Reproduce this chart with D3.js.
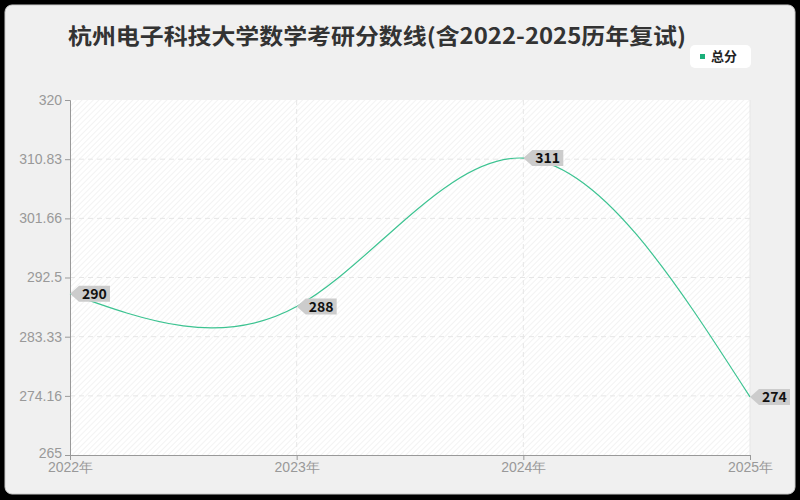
<!DOCTYPE html>
<html>
<meta charset="utf-8">
<title>杭州电子科技大学数学考研分数线</title>
<style>
	body { margin: 0; background-color: #000000; }
	svg { display: block; font-family: "Noto Sans CJK SC", "Noto Sans", sans-serif; }
	.tick text { fill: #999999; font-size: 14px; }
</style>
<body>
<div id="chart"></div>
<script src="https://cdn.jsdelivr.net/npm/d3@7/dist/d3.min.js"></script>
<script>

	// Data
	var years = ["2022年", "2023年", "2024年", "2025年"];
	var scores = [290, 288, 311, 274];
	var yTicks = [265, 274.16, 283.33, 292.5, 301.66, 310.83, 320];
	var seriesName = "总分";
	var title = "杭州电子科技大学数学考研分数线(含2022-2025历年复试)";

	var W = 800, H = 500;
	var margin = { top: 100, right: 50, bottom: 45, left: 70 },
		width = W - margin.left - margin.right,
		height = H - margin.top - margin.bottom;

	var svg = d3.select("#chart").append("svg")
		.attr("width", W)
		.attr("height", H);

	// hatch pattern for plot background
	var defs = svg.append("defs");
	var pat = defs.append("pattern")
		.attr("id", "hatch")
		.attr("patternUnits", "userSpaceOnUse")
		.attr("width", 4).attr("height", 4)
		.attr("patternTransform", "rotate(45)");
	pat.append("rect").attr("width", 4).attr("height", 4).attr("fill", "#ffffff");
	pat.append("line").attr("x1", 0).attr("y1", 0).attr("x2", 0).attr("y2", 4)
		.attr("stroke", "#f3f3f3").attr("stroke-width", 2);

	// outer panel
	svg.append("rect")
		.attr("x", 5).attr("y", 5)
		.attr("width", 790).attr("height", 489)
		.attr("rx", 7)
		.attr("fill", "#f0f0f0")
		.attr("stroke", "#cccccc");

	svg.append("text")
		.attr("x", 68).attr("y", 44)
		.attr("font-size", 22).attr("font-weight", "bold")
		.attr("fill", "#333333")
		.attr("textLength", 618)
		.attr("lengthAdjust", "spacingAndGlyphs")
		.text(title);

	// legend
	var legend = svg.append("g").attr("transform", "translate(690,45)");
	legend.append("rect").attr("width", 61).attr("height", 23).attr("rx", 5).attr("fill", "#ffffff");
	legend.append("rect").attr("x", 10).attr("y", 9).attr("width", 5).attr("height", 5).attr("fill", "#1aaf7a");
	legend.append("text").attr("x", 21).attr("y", 16).attr("font-size", 13).attr("font-weight", "bold")
		.attr("fill", "#222222").text(seriesName);

	var g = svg.append("g").attr("transform", "translate(" + margin.left + "," + margin.top + ")");

	var x = d3.scalePoint().domain(years).range([0, width]);
	var y = d3.scaleLinear().domain([265, 320]).range([height, 0]);

	g.append("rect").attr("width", width).attr("height", height).attr("fill", "url(#hatch)");
	g.append("line").attr("x1", width).attr("x2", width).attr("y1", 0).attr("y2", height)
		.attr("stroke", "#e6e6e6");

	// grid
	g.selectAll(".hgrid").data(yTicks.slice(1, -1)).enter().append("line")
		.attr("x1", 0).attr("x2", width)
		.attr("y1", function (d) { return y(d); }).attr("y2", function (d) { return y(d); })
		.attr("stroke", "#e6e6e6").attr("stroke-dasharray", "5,4");
	g.selectAll(".vgrid").data(years.slice(1, -1)).enter().append("line")
		.attr("x1", function (d) { return x(d); }).attr("x2", function (d) { return x(d); })
		.attr("y1", 0).attr("y2", height)
		.attr("stroke", "#e6e6e6").attr("stroke-dasharray", "5,4");

	// axes
	var yAxis = g.append("g").call(d3.axisLeft(y).tickValues(yTicks).tickSize(5).tickPadding(3)
		.tickFormat(function (d) { return String(d); }));
	var xAxis = g.append("g").attr("transform", "translate(0," + height + ")")
		.call(d3.axisBottom(x).tickSize(5).tickPadding(2));
	g.selectAll(".domain").attr("stroke", "#999999");
	g.selectAll(".tick line").attr("stroke", "#999999");
	// lift the lowest y label a bit so it clears the first year label
	yAxis.selectAll(".tick text").filter(function (d) { return d === 265; }).attr("dy", "0.2em");

	// line
	var line = d3.line()
		.x(function (d, i) { return x(years[i]); })
		.y(function (d) { return y(d); })
		.curve(d3.curveNatural);
	g.append("path").datum(scores)
		.attr("d", line)
		.attr("fill", "none")
		.attr("stroke", "#3cc391")
		.attr("stroke-width", 1.2);

	// value tags
	var tags = g.selectAll(".tag").data(scores).enter().append("g")
		.attr("transform", function (d, i) { return "translate(" + x(years[i]) + "," + y(d) + ")"; });
	tags.append("path")
		.attr("d", "M0,0 L9,-8 L40,-8 L40,8 L9,8 Z")
		.attr("fill", "#cccccc");
	tags.append("text")
		.attr("x", 12).attr("y", 5)
		.attr("font-size", 14).attr("font-weight", "bold")
		.attr("fill", "#111111")
		.text(function (d) { return d; });

</script>
</body>
</html>
